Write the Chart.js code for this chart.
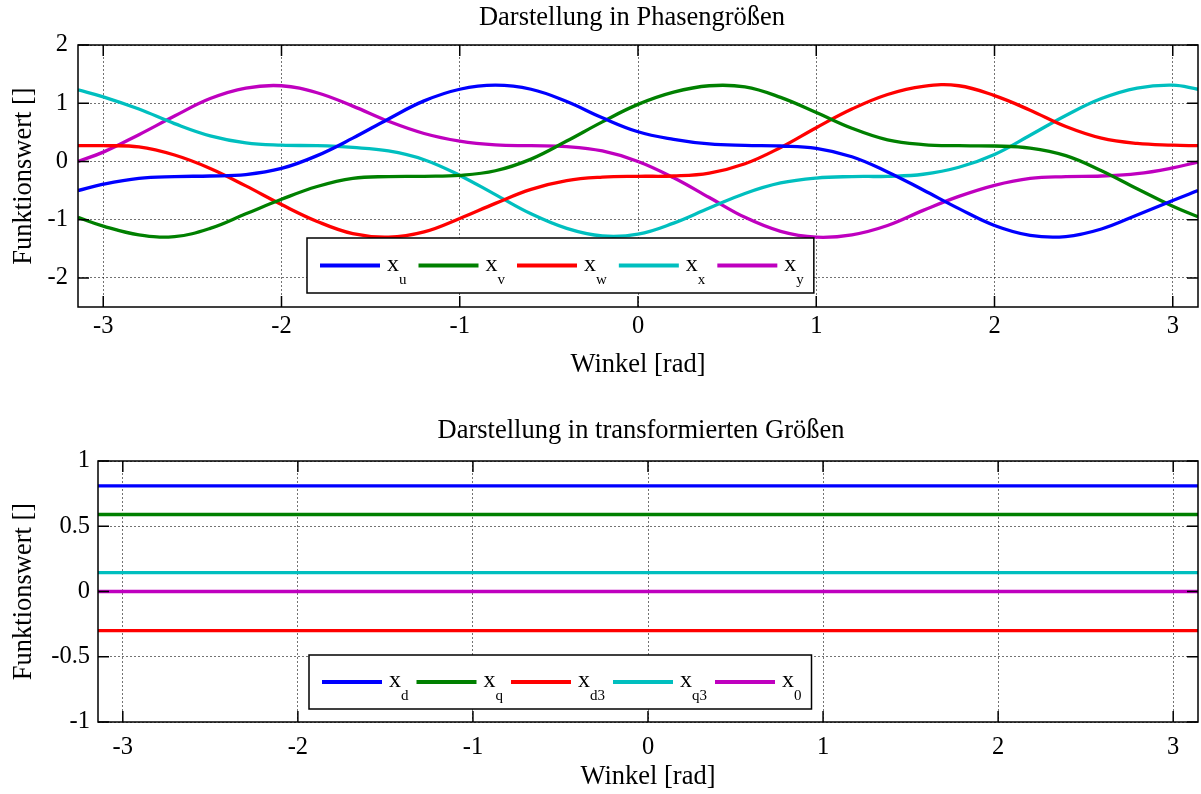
<!DOCTYPE html>
<html>
<head>
<meta charset="utf-8">
<script src="https://cdn.jsdelivr.net/npm/chart.js@4/dist/chart.umd.min.js"></script>
<style>
html, body { margin: 0; padding: 0; background: #fff; }
#wrap { position: relative; width: 1201px; height: 794px; }
#wrap canvas { position: absolute; left: 0; }
</style>
</head>
<body>
<div id="wrap">
  <canvas id="phase" width="1201" height="397" style="top:0"></canvas>
  <canvas id="trans" width="1201" height="397" style="top:397px"></canvas>
</div>
<script>
var FONT = '"Liberation Serif", "Times New Roman", serif';

// angle samples [rad]
var angles = [-3.1416, -3.0, -2.8, -2.6, -2.4, -2.2, -2.0, -1.8, -1.6, -1.4, -1.2, -1.0, -0.8,
  -0.6, -0.4, -0.2, 0, 0.2, 0.4, 0.6, 0.8, 1.0, 1.2, 1.4, 1.6, 1.8, 2.0, 2.2, 2.4, 2.6, 2.8, 3.0, 3.1416];

// phase quantities
var xu = [-0.50, -0.39, -0.29, -0.26, -0.25, -0.225, -0.12, 0.10, 0.40, 0.73, 1.04, 1.24, 1.31,
  1.24, 1.03, 0.75, 0.51, 0.38, 0.30, 0.275, 0.265, 0.225, 0.08, -0.18, -0.49, -0.81, -1.10, -1.27, -1.29, -1.16, -0.92, -0.67, -0.50];
var xv = [-0.96, -1.11, -1.26, -1.29, -1.15, -0.90, -0.65, -0.43, -0.29, -0.26, -0.255, -0.24, -0.16,
  0.04, 0.35, 0.68, 0.98, 1.19, 1.30, 1.28, 1.10, 0.84, 0.57, 0.37, 0.29, 0.27, 0.265, 0.23, 0.10, -0.16, -0.47, -0.77, -0.95];
var xw = [0.27, 0.27, 0.25, 0.11, -0.12, -0.42, -0.74, -1.03, -1.24, -1.30, -1.21, -0.98, -0.72,
  -0.48, -0.33, -0.27, -0.255, -0.25, -0.20, -0.04, 0.24, 0.58, 0.90, 1.15, 1.29, 1.30, 1.13, 0.88, 0.60, 0.40, 0.31, 0.28, 0.27];
var xx = [1.23, 1.11, 0.90, 0.65, 0.44, 0.32, 0.28, 0.27, 0.24, 0.18, 0.03, -0.24, -0.57,
  -0.90, -1.15, -1.28, -1.25, -1.06, -0.80, -0.55, -0.37, -0.285, -0.26, -0.255, -0.22, -0.10, 0.12, 0.45, 0.79, 1.08, 1.26, 1.31, 1.24];
var xy = [0.00, 0.16, 0.46, 0.78, 1.08, 1.26, 1.30, 1.18, 0.95, 0.69, 0.48, 0.35, 0.285,
  0.27, 0.255, 0.18, 0.00, -0.28, -0.62, -0.96, -1.20, -1.30, -1.26, -1.10, -0.84, -0.60, -0.41, -0.29, -0.26, -0.25, -0.21, -0.11, -0.01];

var phaseSeries = [xu, xv, xw, xx, xy];
var phaseSubs = ['u', 'v', 'w', 'x', 'y'];

// transformed quantities (constant over the angle)
var transValues = [0.81, 0.59, -0.30, 0.145, 0.0];
var transSubs = ['d', 'q', 'd3', 'q3', '0'];

var seriesColors = ['#0000ff', '#008000', '#ff0000', '#00bfbf', '#bf00bf'];

var xTicks = [-3, -2, -1, 0, 1, 2, 3];
var phaseYTicks = [-2, -1, 0, 1, 2];
var transYTicks = [-1, -0.5, 0, 0.5, 1];

Chart.defaults.font.family = FONT;
Chart.defaults.color = '#000';

// black frame plus inward tick marks
var framePlugin = {
  id: 'frame',
  afterDatasetsDraw: function(chart) {
    var a = chart.chartArea, ctx = chart.ctx;
    var xs = chart.scales.x, ys = chart.scales.y;
    var len = 11;
    ctx.save();
    ctx.strokeStyle = '#000';
    ctx.lineWidth = 1.5;
    ctx.beginPath();
    xs.ticks.forEach(function(t) {
      var px = xs.getPixelForValue(t.value);
      ctx.moveTo(px, a.bottom); ctx.lineTo(px, a.bottom - len);
      ctx.moveTo(px, a.top); ctx.lineTo(px, a.top + len);
    });
    ys.ticks.forEach(function(t) {
      var py = ys.getPixelForValue(t.value);
      ctx.moveTo(a.left, py); ctx.lineTo(a.left + len, py);
      ctx.moveTo(a.right, py); ctx.lineTo(a.right - len, py);
    });
    ctx.stroke();
    ctx.strokeRect(a.left, a.top, a.right - a.left, a.bottom - a.top);
    ctx.restore();
  }
};

// plot title, centred slightly left of the plot middle like the original
var plotTitlePlugin = {
  id: 'plotTitle',
  afterDraw: function(chart, args, opts) {
    var ctx = chart.ctx;
    ctx.save();
    ctx.font = '26.5px ' + FONT;
    ctx.fillStyle = '#000';
    ctx.textAlign = 'center';
    ctx.textBaseline = 'middle';
    ctx.fillText(opts.text, opts.x, opts.y);
    ctx.restore();
  }
};

// boxed legend with subscripted labels
var subLegendPlugin = {
  id: 'subLegend',
  afterDraw: function(chart, args, opts) {
    var ctx = chart.ctx;
    var sets = chart.data.datasets;
    var mainFont = '24px ' + FONT, subFont = '15px ' + FONT;
    var lineLen = 60, pad = 13, textGap = 7, itemGap = opts.gap;
    var cy = opts.top + opts.height / 2;
    ctx.save();
    var x = opts.left + pad;
    var items = sets.map(function(ds) {
      ctx.font = mainFont;
      var mw = ctx.measureText('x').width;
      ctx.font = subFont;
      var sw = ctx.measureText(ds.sub).width;
      var it = { x: x, mw: mw, sw: sw, ds: ds };
      x += lineLen + textGap + mw + sw + itemGap;
      return it;
    });
    var right = x - itemGap + 10;
    ctx.fillStyle = '#fff';
    ctx.fillRect(opts.left, opts.top, right - opts.left, opts.height);
    ctx.strokeStyle = '#000';
    ctx.lineWidth = 1.5;
    ctx.strokeRect(opts.left, opts.top, right - opts.left, opts.height);
    items.forEach(function(it) {
      ctx.strokeStyle = it.ds.borderColor;
      ctx.lineWidth = 4;
      ctx.beginPath();
      ctx.moveTo(it.x, cy);
      ctx.lineTo(it.x + lineLen, cy);
      ctx.stroke();
      ctx.fillStyle = '#000';
      ctx.textBaseline = 'alphabetic';
      ctx.font = mainFont;
      var tx = it.x + lineLen + textGap;
      ctx.fillText('x', tx, cy + 5);
      ctx.font = subFont;
      ctx.fillText(it.ds.sub, tx + it.mw, cy + 18);
    });
    ctx.restore();
  }
};

function makeOptions(cfg) {
  return {
    responsive: false,
    animation: false,
    events: [],
    layout: { padding: { left: 0, right: 3, top: cfg.topPad, bottom: 0 } },
    plugins: {
      legend: { display: false },
      tooltip: { enabled: false },
      title: { display: false },
      plotTitle: cfg.title,
      subLegend: cfg.legend
    },
    scales: {
      x: {
        type: 'linear',
        min: angles[0],
        max: angles[angles.length - 1],
        afterBuildTicks: function(s) { s.ticks = xTicks.map(function(v) { return { value: v }; }); },
        afterFit: function(s) { s.height = cfg.xHeight; },
        ticks: { font: { size: 24.5 }, padding: cfg.xTickPad, maxRotation: 0, color: '#000' },
        grid: { color: 'rgba(0,0,0,0.55)', lineWidth: 1, drawTicks: false },
        border: { display: false, dash: [2, 2] },
        title: { display: true, text: 'Winkel [rad]', font: { size: 26.5 }, color: '#000',
          padding: { top: 0, bottom: cfg.xTitlePad } }
      },
      y: {
        min: cfg.yMin,
        max: cfg.yMax,
        afterBuildTicks: function(s) { s.ticks = cfg.yTicks.map(function(v) { return { value: v }; }); },
        afterFit: function(s) { s.width = cfg.yWidth; },
        ticks: { font: { size: 24.5 }, padding: cfg.yTickPad, color: '#000',
          callback: function(v) { return String(v); } },
        grid: { color: 'rgba(0,0,0,0.55)', lineWidth: 1, drawTicks: false },
        border: { display: false, dash: [2, 2] },
        title: { display: true, text: 'Funktionswert []', font: { size: 26.5 }, color: '#000',
          padding: { top: 8, bottom: 0 } }
      }
    }
  };
}

new Chart(document.getElementById('phase'), {
  type: 'line',
  data: {
    datasets: phaseSeries.map(function(vals, i) {
      return {
        label: 'x_' + phaseSubs[i],
        sub: phaseSubs[i],
        data: angles.map(function(a, k) { return { x: a, y: vals[k] }; }),
        borderColor: seriesColors[i],
        borderWidth: 3.3,
        pointRadius: 0,
        tension: 0.4,
        fill: false
      };
    })
  },
  options: makeOptions({
    title: { text: 'Darstellung in Phasengrößen', x: 632, y: 18 },
    topPad: 45,
    xHeight: 90, xTickPad: 5.3, xTitlePad: 16.1,
    yWidth: 78, yTickPad: 10,
    yMin: -2.5, yMax: 2, yTicks: phaseYTicks,
    legend: { left: 307, top: 238, height: 55, gap: 12 }
  }),
  plugins: [framePlugin, plotTitlePlugin, subLegendPlugin]
});

new Chart(document.getElementById('trans'), {
  type: 'line',
  data: {
    datasets: transValues.map(function(v, i) {
      return {
        label: 'x_' + transSubs[i],
        sub: transSubs[i],
        data: [{ x: angles[0], y: v }, { x: angles[angles.length - 1], y: v }],
        borderColor: seriesColors[i],
        borderWidth: 3.3,
        pointRadius: 0,
        fill: false
      };
    })
  },
  options: makeOptions({
    title: { text: 'Darstellung in transformierten Größen', x: 641, y: 34 },
    topPad: 64,
    xHeight: 72, xTickPad: 11.3, xTitlePad: 1.1,
    yWidth: 98, yTickPad: 8,
    yMin: -1, yMax: 1, yTicks: transYTicks,
    legend: { left: 309, top: 258, height: 54, gap: 8 }
  }),
  plugins: [framePlugin, plotTitlePlugin, subLegendPlugin]
});
</script>
</body>
</html>
